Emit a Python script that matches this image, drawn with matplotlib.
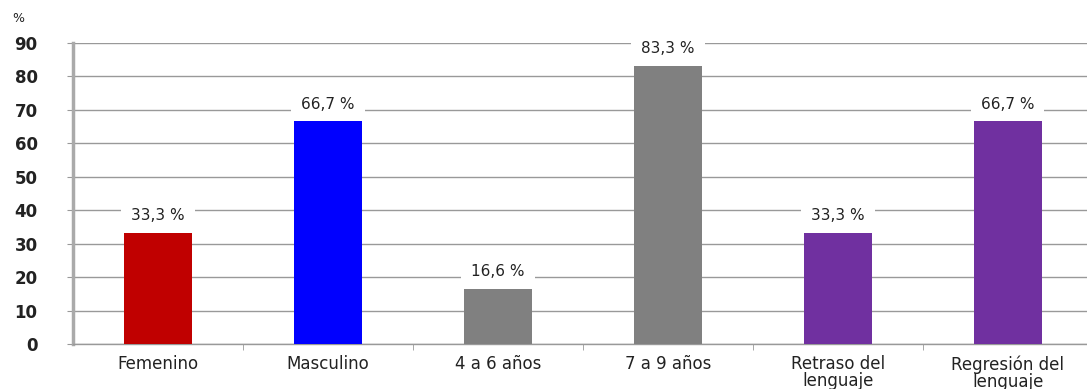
import numpy as np
import matplotlib
matplotlib.use('Agg')
import matplotlib.pyplot as plt
from matplotlib.ticker import FixedLocator

plt.rcParams['font.family'] = ['DejaVu Sans']

categories = ['Femenino', 'Masculino', '4 a 6 años', '7 a 9 años',
              'Retraso del\nlenguaje', 'Regresión del\nlenguaje']
values = [33.3, 66.7, 16.6, 83.3, 33.3, 66.7]
labels = ['33,3 %', '66,7 %', '16,6 %', '83,3 %', '33,3 %', '66,7 %']
colors = ['#C00000', '#0000FF', '#808080', '#808080', '#7030A0', '#7030A0']
yticks = [0, 10, 20, 30, 40, 50, 60, 70, 80, 90]

fig = plt.figure(figsize=(10.87, 3.89), dpi=100)
ax = fig.add_axes([0.0672, 0.1157, 1 - 0.0672, 0.7738])

x = np.arange(len(categories))
ax.bar(x, values, width=0.4, color=colors, zorder=3)

for xi, v, lb in zip(x, values, labels):
    ax.text(xi, v + 5.0, lb, ha='center', va='center', fontsize=11, color='#222222',
            bbox=dict(facecolor='white', edgecolor='none', pad=7), zorder=4)

ax.set_xlim(-0.5, 5.465)
ax.set_ylim(0, 90)
ax.set_yticks(yticks)
ax.set_yticklabels([str(t) for t in yticks], fontweight='bold', fontsize=12, color='#222222')
ax.yaxis.grid(True, color='#999999', linewidth=1, zorder=0)
ax.tick_params(axis='y', length=4.5, color='#999999', pad=21)

ax.set_xticks(x)
ax.set_xticklabels(categories, fontsize=12, color='#222222', linespacing=0.95)
ax.tick_params(axis='x', which='major', length=0, pad=8)
ax.xaxis.set_minor_locator(FixedLocator(x[:-1] + 0.5))
ax.tick_params(axis='x', which='minor', length=4, color='#999999')

for s in ['top', 'right']:
    ax.spines[s].set_visible(False)
ax.spines['left'].set_color('#aaaaaa')
ax.spines['left'].set_linewidth(2.5)
ax.spines['bottom'].set_color('#999999')
ax.spines['bottom'].set_linewidth(1)

fig.text(12 / 1087, 1 - 19 / 389, '%', fontsize=9, color='#222222', va='center')

fig.savefig('out.png', dpi=100)
